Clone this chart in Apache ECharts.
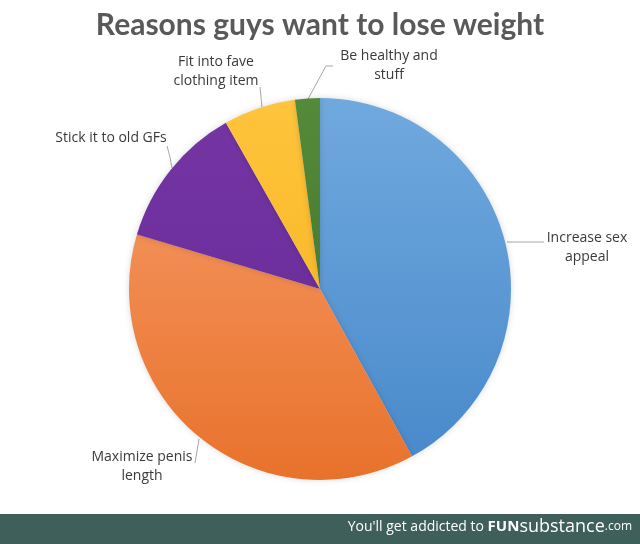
<!DOCTYPE html>
<html>
<head>
<meta charset="utf-8">
<script src="https://cdn.jsdelivr.net/npm/echarts@6/dist/echarts.min.js"></script>
<style>html,body{margin:0;padding:0;background:#fff}#c{width:640px;height:544px}</style>
</head>
<body>
<div id="c"></div>
<script>
const categories = ['Increase sex appeal', 'Maximize penis length', 'Stick it to old GFs', 'Fit into fave clothing item', 'Be healthy and stuff'];
const labelTexts = ['Increase sex\nappeal', 'Maximize penis\nlength', 'Stick it to old GFs', 'Fit into fave\nclothing item', 'Be healthy and\nstuff'];
const values = [42, 37.6, 12.2, 6.1, 2.1];
const titleText = 'Reasons guys want to lose weight';

const grad = (c1, c2) => new echarts.graphic.LinearGradient(0, 0, 0, 1, [{offset: 0, color: c1}, {offset: 1, color: c2}]);
const colors = [
  grad('#70A9DE', '#4A8ACB'),
  grad('#F28E55', '#E8722B'),
  grad('#7435A3', '#6C2F9C'),
  grad('#FFC43D', '#F9BA2A'),
  grad('#558A3A', '#4A7B31')
];
const labelPos = [
  {x: 587, y: 248, line: [[507, 242], [525, 242], [544, 242]]},
  {x: 142, y: 467, line: [[199, 439], [197, 451], [195, 463]]},
  {x: 111, y: 138, line: [[172, 168], [170, 157], [167, 146]]},
  {x: 216, y: 72, line: [[262, 107], [261, 97], [260, 87]]},
  {x: 389, y: 66, line: [[308, 99], [326, 66], [333, 66]]}
];

const chart = echarts.init(document.getElementById('c'), null, {renderer: 'canvas'});
chart.setOption({
  animation: false,
  title: {
    text: titleText,
    left: 'center',
    top: 5,
    textStyle: {fontFamily: 'Lato', fontWeight: 'bold', fontSize: 30, color: '#595959'}
  },
  series: [{
    type: 'pie',
    center: [320, 289],
    radius: 191,
    startAngle: 90,
    clockwise: true,
    avoidLabelOverlap: false,
    data: categories.map((n, i) => ({name: n, value: values[i], itemStyle: {color: colors[i]}})),
    itemStyle: {borderWidth: 0, shadowBlur: 6, shadowColor: 'rgba(0,0,0,0.15)'},
    label: {
      show: true,
      formatter: p => labelTexts[p.dataIndex],
      fontFamily: 'Open Sans',
      fontSize: 14,
      lineHeight: 19,
      color: '#3A3A3A',
      align: 'center'
    },
    labelLine: {show: true, lineStyle: {color: '#A6A6A6', width: 1}},
    labelLayout: p => ({
      x: labelPos[p.dataIndex].x,
      y: labelPos[p.dataIndex].y,
      align: 'center',
      verticalAlign: 'middle',
      labelLinePoints: labelPos[p.dataIndex].line
    })
  }],
  graphic: [
    {type: 'rect', left: 0, top: 514, shape: {width: 640, height: 30}, style: {fill: '#3E5F5A'}},
    {
      type: 'text', right: 8, top: 518,
      style: {
        text: "{a|You'll get addicted to }{b|FUN}{c|substance}{d|.com}",
        rich: {
          a: {fontFamily: 'Open Sans', fontSize: 14, fill: '#fff'},
          b: {fontFamily: 'Open Sans', fontWeight: 'bold', fontSize: 15, fill: '#fff'},
          c: {fontFamily: 'Open Sans', fontSize: 18, fill: '#fff'},
          d: {fontFamily: 'Open Sans', fontSize: 12, fill: '#fff'}
        }
      }
    }
  ]
});
</script>
</body>
</html>
